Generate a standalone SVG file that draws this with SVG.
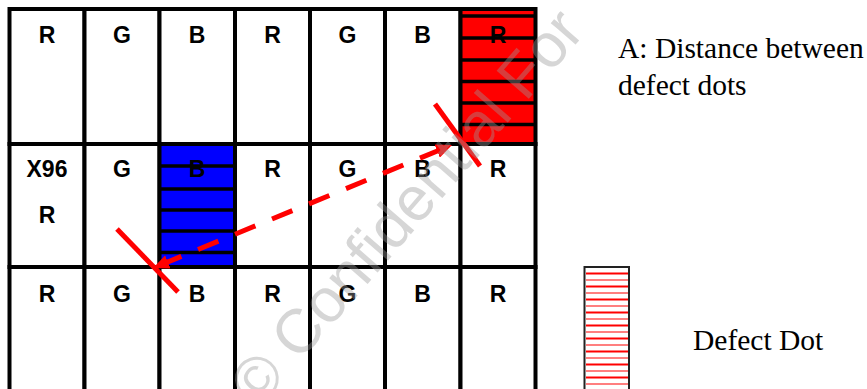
<svg xmlns="http://www.w3.org/2000/svg" width="867" height="389" viewBox="0 0 867 389">
<style>
.cell{fill:#fff;stroke:#000;stroke-width:4}
.lbl{font-family:"Liberation Sans",Arial,sans-serif;font-weight:bold;font-size:23px;text-anchor:middle;fill:#000}
.note{font-family:"Liberation Serif","Times New Roman",serif;font-size:29.5px;fill:#000}
.stripe{stroke:#000;stroke-width:3.5}
.mark{stroke:#ff0000;stroke-width:5;fill:none}
.wm{font-family:"Liberation Sans",Arial,sans-serif;font-size:62px;fill:#9a9a9a;opacity:0.4}
.lg-thick{stroke:#ff0000;stroke-width:2}
.lg-thin{stroke:#ff0000;stroke-width:1.2}
</style>
<defs>
<marker id="ah" viewBox="0 0 16 14" refX="16" refY="7" markerWidth="16" markerHeight="14" markerUnits="userSpaceOnUse" orient="auto-start-reverse">
<path d="M0,0 L16,7 L0,14 z" fill="#ff0000"/>
</marker>
</defs>
<rect width="867" height="389" fill="#fff"/>
<g id="row1">
<g id="c11"><rect class="cell" x="9.5" y="9" width="75" height="135"/><text class="lbl" x="47" y="43">R</text></g>
<g id="c12"><rect class="cell" x="84.5" y="9" width="75" height="135"/><text class="lbl" x="122" y="43">G</text></g>
<g id="c13"><rect class="cell" x="159.5" y="9" width="75.5" height="135"/><text class="lbl" x="197" y="43">B</text></g>
<g id="c14"><rect class="cell" x="235" y="9" width="75" height="135"/><text class="lbl" x="272.5" y="43">R</text></g>
<g id="c15"><rect class="cell" x="310" y="9" width="75" height="135"/><text class="lbl" x="347.5" y="43">G</text></g>
<g id="c16"><rect class="cell" x="385" y="9" width="75.5" height="135"/><text class="lbl" x="422.5" y="43">B</text></g>
<g id="c17"><rect class="cell" x="460.5" y="9" width="75" height="135" style="fill:#ff0000"/><text class="lbl" x="498" y="43">R</text>
<line class="stripe" x1="462" y1="16" x2="534" y2="16"/><line class="stripe" x1="462" y1="38" x2="534" y2="38"/><line class="stripe" x1="462" y1="60" x2="534" y2="60"/><line class="stripe" x1="462" y1="81.5" x2="534" y2="81.5"/><line class="stripe" x1="462" y1="103" x2="534" y2="103"/><line class="stripe" x1="462" y1="124.5" x2="534" y2="124.5"/></g>
</g>
<g id="row2">
<g id="c21"><rect class="cell" x="9.5" y="144" width="75" height="123"/><text class="lbl" x="47" y="177">X96</text><text class="lbl" x="47" y="223">R</text></g>
<g id="c22"><rect class="cell" x="84.5" y="144" width="75" height="123"/><text class="lbl" x="122" y="177">G</text></g>
<g id="c23"><rect class="cell" x="159.5" y="144" width="75.5" height="123" style="fill:#0000ff"/><text class="lbl" x="197" y="177">B</text>
<line class="stripe" x1="161" y1="166" x2="233" y2="166"/><line class="stripe" x1="161" y1="189" x2="233" y2="189"/><line class="stripe" x1="161" y1="210" x2="233" y2="210"/><line class="stripe" x1="161" y1="231" x2="233" y2="231"/><line class="stripe" x1="161" y1="252.5" x2="233" y2="252.5"/></g>
<g id="c24"><rect class="cell" x="235" y="144" width="75" height="123"/><text class="lbl" x="272.5" y="177">R</text></g>
<g id="c25"><rect class="cell" x="310" y="144" width="75" height="123"/><text class="lbl" x="347.5" y="177">G</text></g>
<g id="c26"><rect class="cell" x="385" y="144" width="75.5" height="123"/><text class="lbl" x="422.5" y="177">B</text></g>
<g id="c27"><rect class="cell" x="460.5" y="144" width="75" height="123"/><text class="lbl" x="498" y="177">R</text></g>
</g>
<g id="row3">
<g id="c31"><rect class="cell" x="9.5" y="267" width="75" height="140"/><text class="lbl" x="47" y="302">R</text></g>
<g id="c32"><rect class="cell" x="84.5" y="267" width="75" height="140"/><text class="lbl" x="122" y="302">G</text></g>
<g id="c33"><rect class="cell" x="159.5" y="267" width="75.5" height="140"/><text class="lbl" x="197" y="302">B</text></g>
<g id="c34"><rect class="cell" x="235" y="267" width="75" height="140"/><text class="lbl" x="272.5" y="302">R</text></g>
<g id="c35"><rect class="cell" x="310" y="267" width="75" height="140"/><text class="lbl" x="347.5" y="302">G</text></g>
<g id="c36"><rect class="cell" x="385" y="267" width="75.5" height="140"/><text class="lbl" x="422.5" y="302">B</text></g>
<g id="c37"><rect class="cell" x="460.5" y="267" width="75" height="140"/><text class="lbl" x="498" y="302">R</text></g>
</g>
<g id="connectors">
<line class="mark" x1="117" y1="229" x2="178" y2="292"/>
<line class="mark" x1="435" y1="104" x2="480" y2="166"/>
<line class="mark" x1="153" y1="268" x2="452" y2="145" stroke-dasharray="22 18" stroke-dashoffset="31.3" marker-start="url(#ah)" marker-end="url(#ah)"/>
</g>
<g id="legend">
<rect x="584.5" y="267" width="44.5" height="130" fill="#fff" stroke="#222" stroke-width="2"/>
<g>
<line class="lg-thick" x1="586" y1="273.5" x2="628" y2="273.5"/>
<line class="lg-thin" x1="586" y1="280" x2="628" y2="280"/>
<line class="lg-thick" x1="586" y1="286.5" x2="628" y2="286.5"/>
<line class="lg-thin" x1="586" y1="293" x2="628" y2="293"/>
<line class="lg-thick" x1="586" y1="299.5" x2="628" y2="299.5"/>
<line class="lg-thin" x1="586" y1="306" x2="628" y2="306"/>
<line class="lg-thick" x1="586" y1="312.5" x2="628" y2="312.5"/>
<line class="lg-thin" x1="586" y1="319" x2="628" y2="319"/>
<line class="lg-thick" x1="586" y1="325.5" x2="628" y2="325.5"/>
<line class="lg-thin" x1="586" y1="332" x2="628" y2="332"/>
<line class="lg-thick" x1="586" y1="338.5" x2="628" y2="338.5"/>
<line class="lg-thin" x1="586" y1="345" x2="628" y2="345"/>
<line class="lg-thick" x1="586" y1="351.5" x2="628" y2="351.5"/>
<line class="lg-thin" x1="586" y1="358" x2="628" y2="358"/>
<line class="lg-thick" x1="586" y1="364.5" x2="628" y2="364.5"/>
<line class="lg-thin" x1="586" y1="371" x2="628" y2="371"/>
<line class="lg-thick" x1="586" y1="377.5" x2="628" y2="377.5"/>
<line class="lg-thin" x1="586" y1="384" x2="628" y2="384"/>
</g>
<text class="note" x="693" y="350">Defect Dot</text>
</g>
<g id="note">
<text class="note" x="618" y="58">A: Distance between</text>
<text class="note" x="618" y="95">defect dots</text>
</g>
<text class="wm" transform="translate(258,410) rotate(-49)">© Confidential For</text>
</svg>
